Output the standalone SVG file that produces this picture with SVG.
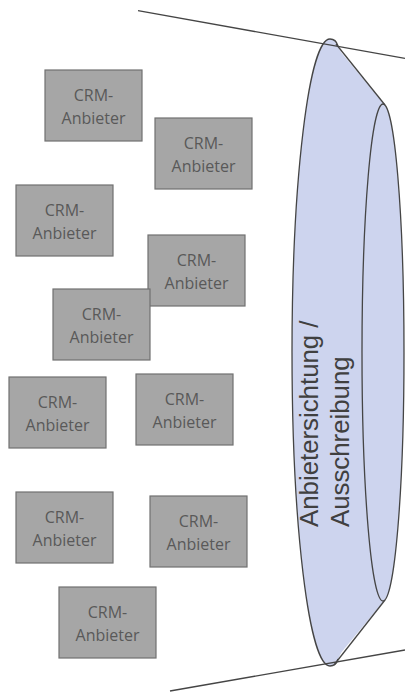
<svg xmlns="http://www.w3.org/2000/svg" width="405" height="692" viewBox="0 0 405 692">
  <style>
    .box { fill: #a6a6a6; stroke: #717171; stroke-width: 1.2; }
    .lbl { font-family: "Open Sans", "Liberation Sans", sans-serif; font-size: 16px; fill: #595959; text-anchor: middle; }
    .funnel-fill { fill: #cdd4ee; stroke: none; }
    .edge { fill: none; stroke: #454545; stroke-width: 1.3; }
    .ftext { font-family: "Liberation Sans", Arial, sans-serif; font-size: 25.8px; fill: #404040; }
  </style>
  <defs>
    <g id="vendor">
      <rect class="box" x="0" y="0" width="97" height="71"/>
      <text class="lbl" x="48.5" y="31">CRM-</text>
      <text class="lbl" x="48.5" y="54">Anbieter</text>
    </g>
  </defs>

  <!-- funnel: Anbietersichtung / Ausschreibung -->
  <g id="funnel">
    <ellipse class="funnel-fill" cx="330" cy="352.5" rx="38" ry="313.5"/>
    <ellipse class="funnel-fill" cx="383" cy="352.5" rx="21" ry="248.5"/>
    <polygon class="funnel-fill" points="330,39 384,104 384,601 330,666"/>
    <path class="edge" d="M330,39 A38,313.5 0 0 0 330,666"/>
    <path class="edge" d="M330,39 Q336,39 338,46"/>
    <path class="edge" d="M330,666 Q336,666 338,659"/>
    <ellipse class="edge" cx="383" cy="352.5" rx="21" ry="248.5"/>
    <line class="edge" x1="336" y1="44" x2="385" y2="105"/>
    <line class="edge" x1="385" y1="600" x2="334" y2="665"/>
    <text class="ftext" transform="rotate(-90)" x="-527" y="318">Anbietersichtung /</text>
    <text class="ftext" transform="rotate(-90)" x="-527" y="349">Ausschreibung</text>
  </g>

  <!-- vendors -->
  <g id="vendor1"><use href="#vendor" x="45" y="70"/></g>
  <g id="vendor2"><use href="#vendor" x="155" y="118"/></g>
  <g id="vendor3"><use href="#vendor" x="16" y="185"/></g>
  <g id="vendor4"><use href="#vendor" x="148" y="235"/></g>
  <g id="vendor5"><use href="#vendor" x="53" y="289"/></g>
  <g id="vendor6"><use href="#vendor" x="9" y="377"/></g>
  <g id="vendor7"><use href="#vendor" x="136" y="374"/></g>
  <g id="vendor8"><use href="#vendor" x="16" y="492"/></g>
  <g id="vendor9"><use href="#vendor" x="150" y="496"/></g>
  <g id="vendor10"><use href="#vendor" x="59" y="587"/></g>

  <!-- boundary lines -->
  <g id="connectors">
    <line class="edge" x1="138" y1="10.7" x2="405" y2="58.3"/>
    <line class="edge" x1="170" y1="691" x2="405" y2="650"/>
  </g>
</svg>
